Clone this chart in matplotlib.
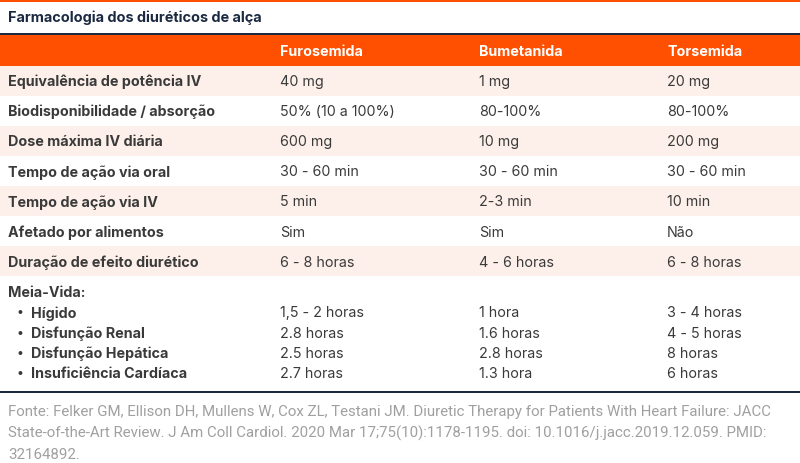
import matplotlib.pyplot as plt
from matplotlib.patches import Rectangle

# Dados da tabela
title = "Farmacologia dos diuréticos de alça"
drugs = ["Furosemida", "Bumetanida", "Torsemida"]
row_labels = [
    "Equivalência de potência IV",
    "Biodisponibilidade / absorção",
    "Dose máxima IV diária",
    "Tempo de ação via oral",
    "Tempo de ação via IV",
    "Afetado por alimentos",
    "Duração de efeito diurético",
]
furosemida = ["40 mg", "50% (10 a 100%)", "600 mg", "30 - 60 min", "5 min", "Sim", "6 - 8 horas"]
bumetanida = ["1 mg", "80-100%", "10 mg", "30 - 60 min", "2-3 min", "Sim", "4 - 6 horas"]
torsemida = ["20 mg", "80-100%", "200 mg", "30 - 60 min", "10 min", "Não", "6 - 8 horas"]

half_life_title = "Meia-Vida:"
half_life_labels = ["Hígido", "Disfunção Renal", "Disfunção Hepática", "Insuficiência Cardíaca"]
half_furosemida = ["1,5 - 2 horas", "2.8 horas", "2.5 horas", "2.7 horas"]
half_bumetanida = ["1 hora", "1.6 horas", "2.8 horas", "1.3 hora"]
half_torsemida = ["3 - 4 horas", "4 - 5 horas", "8 horas", "6 horas"]

source_lines = [
    "Fonte: Felker GM, Ellison DH, Mullens W, Cox ZL, Testani JM. Diuretic Therapy for Patients With Heart Failure: JACC",
    "State-of-the-Art Review. J Am Coll Cardiol. 2020 Mar 17;75(10):1178-1195. doi: 10.1016/j.jacc.2019.12.059. PMID:",
    "32164892.",
]

orange = "#fe5000"
navy = "#1b2a41"
pink = "#fdf0ea"
txt = "#3a3a3a"
fs = 10.3

fig = plt.figure(figsize=(8, 4.64), dpi=100)
ax = fig.add_axes([0, 0, 1, 1])
ax.set_xlim(0, 800)
ax.set_ylim(464, 0)
ax.axis("off")

# barra superior e título
ax.add_patch(Rectangle((0, 0), 800, 3, color=orange, lw=0))
ax.text(8, 18, title, fontsize=10.4, fontweight="bold", color=navy,
        family="Inter", va="center")
ax.add_patch(Rectangle((0, 33.5), 800, 2, color=navy, lw=0))

# cabeçalho
col_x = [280, 479, 667]
ax.add_patch(Rectangle((0, 35.5), 800, 31, color=orange, lw=0))
for x, d in zip(col_x, drugs):
    ax.text(x, 51.5, d, fontsize=fs, fontweight="bold", color="white",
            family="Inter", va="center")

# linhas
row_h = 30.1
y0 = 66.5
cols = [furosemida, bumetanida, torsemida]
for i, lab in enumerate(row_labels):
    top = y0 + i * row_h
    if i % 2 == 0:
        ax.add_patch(Rectangle((0, top), 800, row_h, color=pink, lw=0))
    yc = top + row_h / 2 + 0.5
    ax.text(8, yc, lab, fontsize=fs, fontweight="bold", color=txt,
            family="Inter", va="center")
    for x, c in zip(col_x, cols):
        ax.text(x, yc, c[i], fontsize=fs, color=txt, family="Inter", va="center")

# meia-vida
ax.text(8, 293.5, half_life_title, fontsize=fs, fontweight="bold", color=txt,
        family="Inter", va="center")
hcols = [half_furosemida, half_bumetanida, half_torsemida]
for j, lab in enumerate(half_life_labels):
    yc = 313.5 + j * 20.1
    ax.text(16, yc, "•", fontsize=9, color=txt, family="Inter", va="center")
    ax.text(31, yc, lab, fontsize=fs, fontweight="bold", color=txt,
            family="Inter", va="center")
    for x, c in zip(col_x, hcols):
        ax.text(x, yc, c[j], fontsize=fs, color=txt, family="Inter", va="center")

ax.add_patch(Rectangle((0, 391.5), 800, 2, color=navy, lw=0))

# fonte
for k, line in enumerate(source_lines):
    ax.text(8, 412 + k * 21.5, line, fontsize=10.8, color="#a0a0a0",
            family="Roboto", va="center")

fig.savefig("out.png", dpi=100)
